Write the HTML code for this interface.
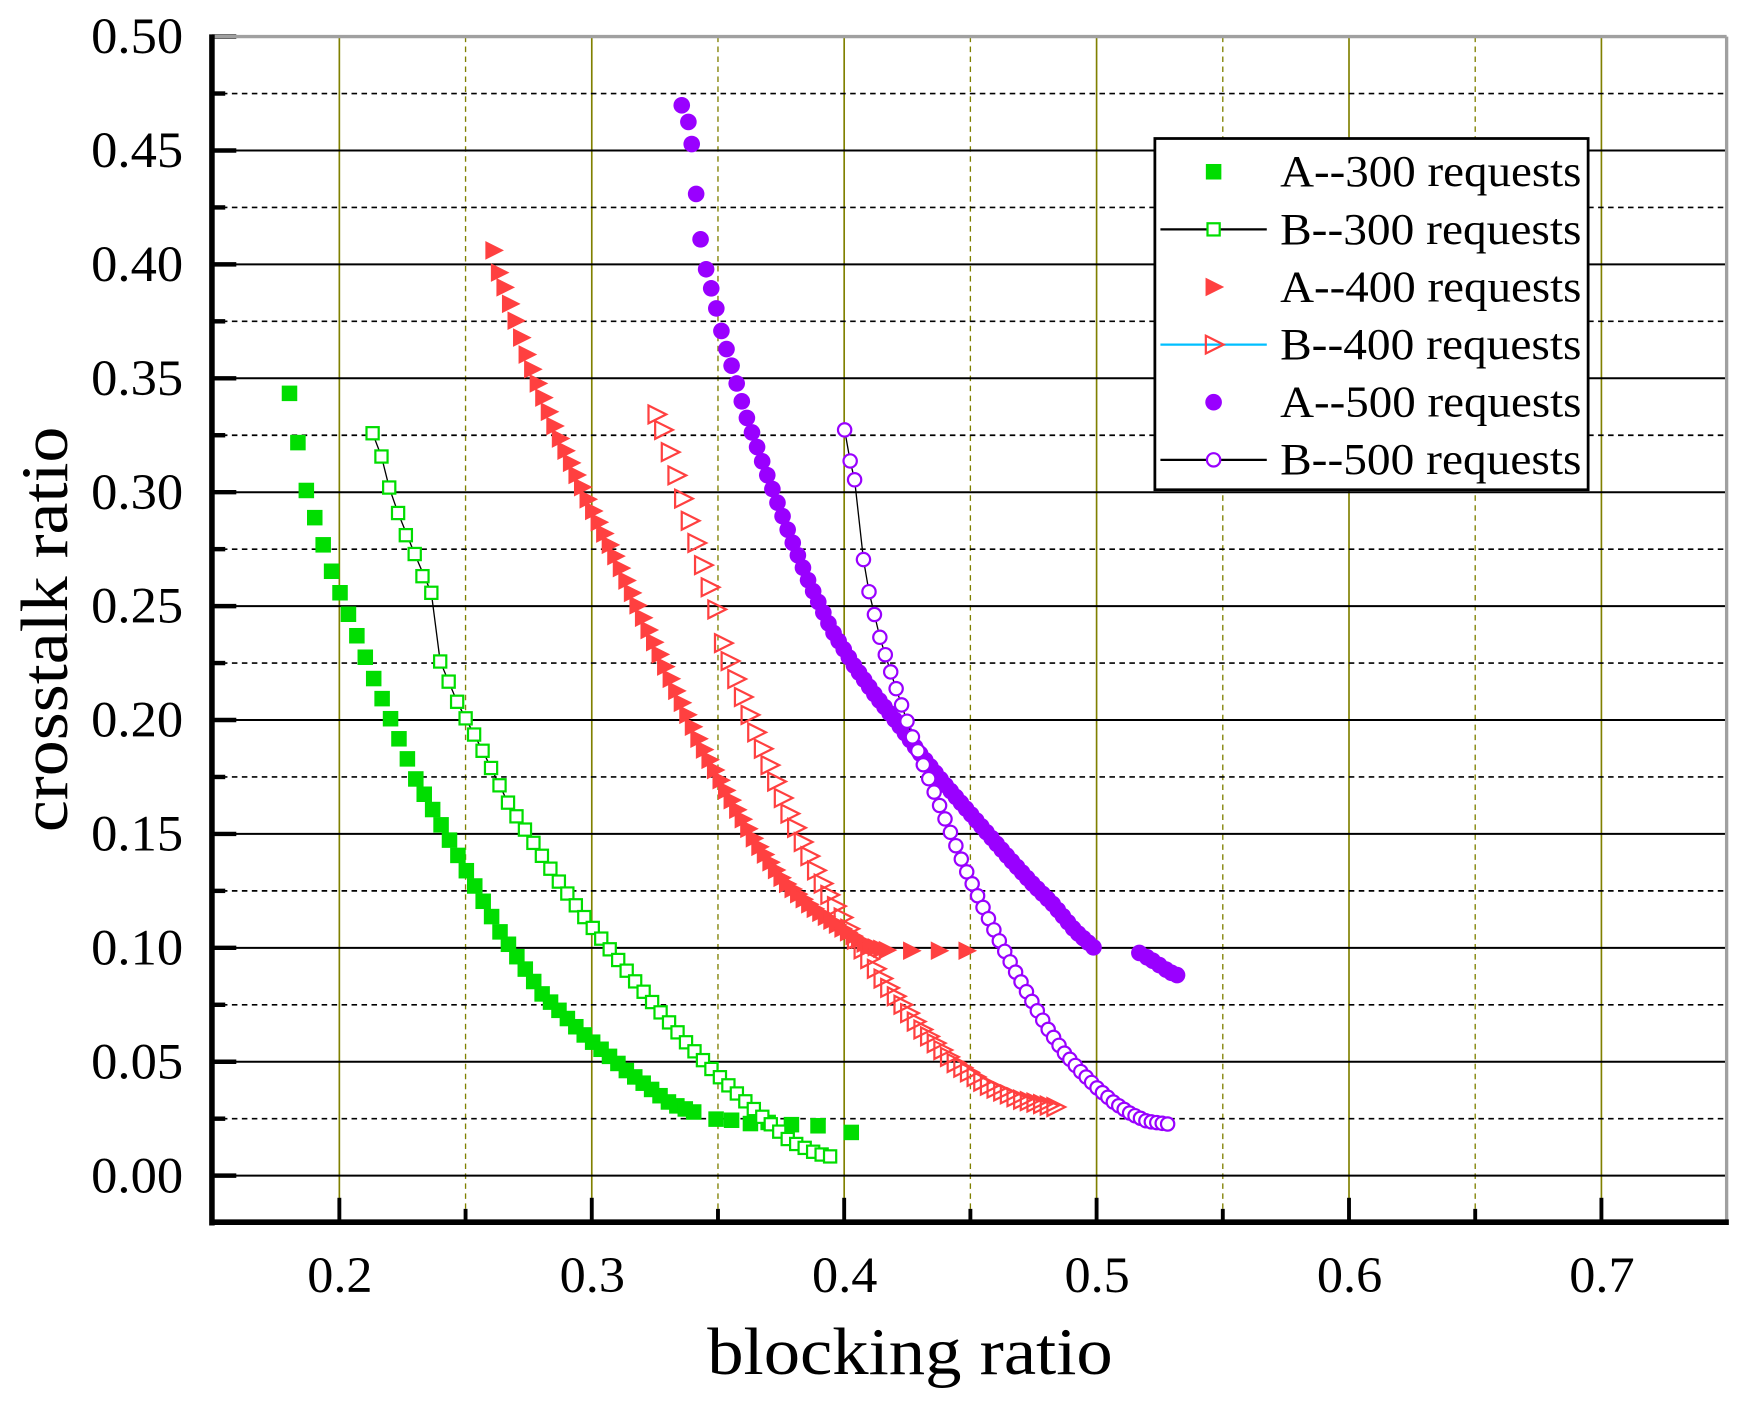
<!DOCTYPE html>
<html><head><meta charset="utf-8">
<style>html,body{margin:0;padding:0;background:#fff;}svg{display:block;}</style>
</head><body>
<svg id="s" xmlns="http://www.w3.org/2000/svg" width="1738" height="1405" viewBox="0 0 1568 1268" font-family="Liberation Serif, serif">
<rect x="0" y="0" width="1568" height="1268" fill="#fff"/>
<g id="grid"></g>
<g id="data"></g>
<g id="axes"></g>
<g id="legend"></g>
</svg>
<script>
const NS="http://www.w3.org/2000/svg";
function el(p,t,a,txt){const e=document.createElementNS(NS,t);for(const k in a)e.setAttribute(k,a[k]);if(txt!==undefined)e.textContent=txt;document.getElementById(p).appendChild(e);return e;}
const L=191,R=1558,T=33,B=1103;
const X=v=>306+(v-0.2)*2278, Y=v=>1061-v*2056;
for(let i=0;i<=10;i++){const v=0.2+i*0.05;const x=X(v);if(x>R)break;
 if(i%2==0) el('grid','line',{x1:x,y1:T,x2:x,y2:B,stroke:'#808000','stroke-width':1.5});
 else el('grid','line',{x1:x,y1:T,x2:x,y2:B,stroke:'#808000','stroke-width':1.2,'stroke-dasharray':'5,4'});}
for(let i=0;i<=20;i++){const v=i*0.025;const y=Y(v);
 if(i%2==0){ if(i<20) el('grid','line',{x1:L,y1:y,x2:R,y2:y,stroke:'#000','stroke-width':1.8});
   el('axes','line',{x1:L,y1:y,x2:L+22,y2:y,stroke:'#000','stroke-width':4});
   el('axes','text',{x:82,y:y+15,'font-size':46,textLength:83,lengthAdjust:'spacingAndGlyphs'},v.toFixed(2));}
 else { el('grid','line',{x1:L,y1:y,x2:R,y2:y,stroke:'#000','stroke-width':1.5,'stroke-dasharray':'5,4'});
   el('axes','line',{x1:L,y1:y,x2:L+12,y2:y,stroke:'#000','stroke-width':4});}}
el('axes','line',{x1:L,y1:T,x2:R,y2:T,stroke:'#a0a0a0','stroke-width':3});
el('axes','line',{x1:R,y1:T,x2:R,y2:B,stroke:'#a0a0a0','stroke-width':3});
el('axes','line',{x1:L,y1:T-2,x2:L,y2:B+3,stroke:'#000','stroke-width':5});
el('axes','line',{x1:L-2,y1:B,x2:R+2,y2:B,stroke:'#000','stroke-width':5});
for(let i=0;i<=10;i++){const v=0.2+i*0.05;const x=X(v);if(x>R)break;
 el('axes','line',{x1:x,y1:B,x2:x,y2:B-(i%2==0?22:12),stroke:'#000','stroke-width':3.5});
 if(i%2==0) el('axes','text',{x:x-29,y:1166,'font-size':46,textLength:59,lengthAdjust:'spacingAndGlyphs'},v.toFixed(1));}
el('axes','text',{x:638,y:1240,'font-size':60,textLength:366,lengthAdjust:'spacingAndGlyphs'},'blocking ratio');
el('axes','text',{x:0,y:0,'font-size':60,textLength:366,lengthAdjust:'spacingAndGlyphs',transform:'translate(60,751) rotate(-90)'},'crosstalk ratio');

function sampleX(keys,st){const pts=[];let x=keys[0][0];const xe=keys[keys.length-1][0];let i=1;
 while(x<=xe+0.01){while(i<keys.length-1&&keys[i][0]<x)i++;const a=keys[i-1],b=keys[i];const t=b[0]==a[0]?1:(x-a[0])/(b[0]-a[0]);pts.push([x,a[1]+(b[1]-a[1])*Math.max(0,Math.min(1,t))]);x+=st;}return pts;}
function sq(p,x,y,c,open){if(open)el(p,'rect',{x:x-5.5,y:y-5.5,width:11,height:11,fill:'#fff',stroke:c,'stroke-width':2});else el(p,'rect',{x:x-7,y:y-7,width:14,height:14,fill:c});}
function tri(p,x,y,c,open){const pts=`${x-7},${y-8} ${x+9},${y} ${x-7},${y+8}`;el(p,'polygon',{points:pts,fill:open?'none':c,stroke:c,'stroke-width':open?2:0.5});}
function circ(p,x,y,c,open){el(p,'circle',{cx:x,cy:y,r:open?6:7.5,fill:open?'#fff':c,stroke:c,'stroke-width':open?2:0});}
function line(keys){el('data','polyline',{points:keys.map(p=>p.join(',')).join(' '),fill:'none',stroke:'#000','stroke-width':1.2});}
const G='#00DD00',Rd='#FF4040',P='#9900FF';
const a300=sampleX([[261,355],[268,396],[276,442],[298,513],[336,610],[375,703],[413,772],[451,841],[489,897],[528,935],[566,967],[605,996],[627,1004]],7.6)
 .concat([[646,1010],[660,1011],[677,1014],[693,1013],[714,1015],[738,1016],[768,1022]]);
a300.forEach(p=>sq('data',p[0],p[1],G,false));
const b300k=[[336,391],[344,412],[351,440],[359,463],[374,500],[389,535],[397,597],[413,635],[436,679],[459,726],[482,762],[505,797],[528,829],[551,858],[574,887],[597,915],[620,942],[643,966],[667,989],[690,1010],[713,1030],[737,1041],[755,1045]];
line(b300k);
[[336,391],[344,412],[351,440],[359,463],[366,483],[374,500],[381,520],[389,535]].concat(sampleX(b300k.slice(6),7.65)).forEach(p=>sq('data',p[0],p[1],G,true));
const a400=sampleX([[445,226],[450,246],[456,262],[476,323],[501,387],[532,455],[557,506],[582,562],[607,617],[632,671],[657,717],[682,760],[707,795],[732,818],[757,836],[782,853],[802,858]],5)
 .concat([[822,858],[847,858],[872,858]]);
a400.forEach(p=>tri('data',p[0],p[1],Rd,false));
const b400k=[[592,374],[598,388],[604,408],[616,450],[646,550],[650,575],[680,656],[710,730],[740,794],[770,845],[800,889],[830,927],[860,958],[890,979],[920,992],[956,1000]];
sampleX(b400k,6).forEach(p=>tri('data',p[0],p[1],Rd,true));
const a500=[[615,95],[621,110],[624,130],[628,175],[632,216]].concat(sampleX([[637,243],[645,273],[652,304],[660,330],[672,372],[686,412],[700,450],[714,487],[730,526],[750,568],[770,600],[790,628],[810,653],[830,680],[850,705],[870,728],[890,751],[910,774],[930,796],[950,816],[970,840],[990,858]],4.6))
 .concat([[1028,860],[1035,864],[1040,867],[1046,871],[1052,875],[1057,878],[1062,880]]);
a500.forEach(p=>circ('data',p[0],p[1],P,false));
const b500k=[[762,388],[767,416],[771,433],[779,505],[784,534],[794,576],[806,614],[822,662],[838,703],[855,745],[870,782],[885,815],[900,846],[915,875],[930,902],[945,928],[960,950],[975,967],[990,982],[1005,995],[1020,1005],[1035,1012],[1058,1015]];
line(b500k);
[[762,388],[767,416],[771,433],[779,505]].concat(sampleX(b500k.slice(4),4.9)).forEach(p=>circ('data',p[0],p[1],P,true));
el('legend','rect',{x:1042,y:125,width:391,height:317,fill:'#fff',stroke:'#000','stroke-width':2.5});
const names=['A--300 requests','B--300 requests','A--400 requests','B--400 requests','A--500 requests','B--500 requests'];
for(let i=0;i<6;i++){const y=155+i*52;
 if(i==1||i==5) el('legend','line',{x1:1047,y1:y,x2:1143,y2:y,stroke:'#000','stroke-width':2});
 if(i==3) el('legend','line',{x1:1047,y1:y,x2:1143,y2:y,stroke:'#00BFFF','stroke-width':2});
 const f=[sq,sq,tri,tri,circ,circ][i],c=[G,G,Rd,Rd,P,P][i];f('legend',1095,y,c,i%2==1);
 el('legend','text',{x:1155,y:y+13,'font-size':40,textLength:272,lengthAdjust:'spacingAndGlyphs'},names[i]);}
</script>
</body></html>
